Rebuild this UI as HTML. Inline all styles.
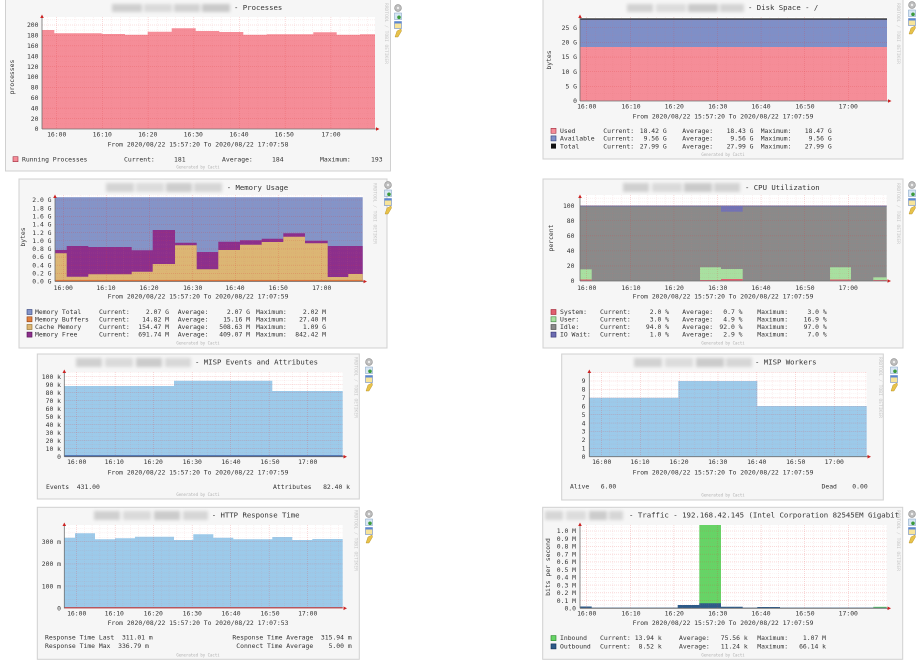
<!DOCTYPE html>
<html><head><meta charset="utf-8">
<style>
html,body{margin:0;padding:0;background:#fff;}
svg{display:block}
text{font-family:"DejaVu Sans Mono","Liberation Mono",monospace;font-size:6.4px;fill:#333;white-space:pre}
.t{font-size:7.3px;fill:#333}
.g{font-size:4px;fill:#b0b0b0}
.v{font-size:4.6px;fill:#c6c6c6}
.r{text-anchor:end}
.m{text-anchor:middle}
.box{fill:#f6f6f6;stroke:#d0d0d0;stroke-width:1}
.ax{stroke:#707070;stroke-width:0.8;fill:none}
.ar{fill:#cc2222}
</style></head><body>
<svg width="920" height="662" viewBox="0 0 920 662" xmlns="http://www.w3.org/2000/svg" xml:space="preserve">
<defs>
<filter id="b" x="-20%" y="-60%" width="140%" height="220%"><feGaussianBlur stdDeviation="1.5"/></filter>
<g id="ic">
<circle cx="0" cy="4" r="3.4" fill="#bdbdbd" stroke="#8e8e8e" stroke-width=".6"/>
<circle cx="0" cy="4" r="1.2" fill="#eee"/>
<rect x="-3.5" y="9" width="7" height="6.5" fill="#d7e6f4" stroke="#7a9cc0" stroke-width=".5"/>
<circle cx="1" cy="13.3" r="1.8" fill="#3c9a3c"/>
<rect x="-3.5" y="17.5" width="7" height="7" fill="#f7e49a" stroke="#6a8cc8" stroke-width=".6"/>
<rect x="-3.5" y="17.5" width="7" height="2" fill="#5b86d0"/>
<polygon points="-3,33 -1,27 3,25 3.5,27 0,33" fill="#e8c24a" stroke="#b08a20" stroke-width=".4"/>
</g>
</defs>
<rect width="920" height="662" fill="#fff"/>

<!-- ================= P1 Processes ================= -->
<rect class="box" x="5.5" y="-1" width="385" height="172"/>
<rect x="42" y="17" width="333" height="112" fill="#fff"/>
<polygon fill="#f58d98" points="42,129 42,30 54.3,30 54.3,33.3 101.7,33.3 101.7,34 125,34 125,34.7 147.7,34.7 147.7,31.7 171.7,31.7 171.7,28.3 195.7,28.3 195.7,31 219.3,31 219.3,32 243.3,32 243.3,34.7 266.7,34.7 266.7,34.3 313.3,34.3 313.3,32.3 336.7,32.3 336.7,34.7 360,34.7 360,34.3 375,34.3 375,129"/>
<g id="g1"></g>
<path class="ax" d="M42,129H377M42,129V16"/>
<path class="ar" d="M40.2,18L42,14.5L43.8,18Z"/><path class="ar" d="M376,127.2L379.5,129L376,130.8Z"/>
<text x="38.5" y="131.2" class="r">0</text><text x="38.5" y="120.8" class="r">20</text><text x="38.5" y="110.4" class="r">40</text><text x="38.5" y="100" class="r">60</text><text x="38.5" y="89.6" class="r">80</text><text x="38.5" y="79.2" class="r">100</text><text x="38.5" y="68.8" class="r">120</text><text x="38.5" y="58.4" class="r">140</text><text x="38.5" y="48" class="r">160</text><text x="38.5" y="37.6" class="r">180</text><text x="38.5" y="27.2" class="r">200</text>
<text class="m" x="56.7" y="136.5">16:00</text><text class="m" x="102.3" y="136.5">16:10</text><text class="m" x="147.7" y="136.5">16:20</text><text class="m" x="193.3" y="136.5">16:30</text><text class="m" x="239" y="136.5">16:40</text><text class="m" x="284.3" y="136.5">16:50</text><text class="m" x="331" y="136.5">17:00</text>
<text class="m" transform="translate(14,77) rotate(-90)">processes</text>
<g filter="url(#b)"><rect x="112" y="4" width="30" height="8" fill="#cfcfcf"/><rect x="144" y="4" width="28" height="8" fill="#dadada"/><rect x="174" y="4" width="26" height="8" fill="#d2d2d2"/><rect x="202" y="4" width="28" height="8" fill="#c9c9c9"/></g>
<text class="t" x="234" y="10">- Processes</text>
<text class="m" x="198" y="146.3">From 2020/08/22 15:57:20 To 2020/08/22 17:07:58</text>
<rect x="13" y="156.7" width="5" height="5" fill="#f58d98" stroke="#a03040" stroke-width=".6"/>
<text x="22" y="161.5">Running Processes</text>
<text x="124" y="161.5">Current:</text><text x="174" y="161.5">181</text>
<text x="222" y="161.5">Average:</text><text x="272" y="161.5">184</text>
<text x="320" y="161.5">Maximum:</text><text x="371" y="161.5">193</text>
<text class="g m" x="198" y="168.5">Generated by Cacti</text>
<text class="v" transform="translate(385,3) rotate(90)">RRDTOOL / TOBI OETIKER</text>
<use href="#ic" x="398" y="4"/>

<!-- ================= P2 Disk ================= -->
<rect class="box" x="543" y="-1" width="360" height="160"/>
<rect x="580" y="17" width="307" height="84" fill="#fff"/>
<rect x="580" y="47" width="307" height="54" fill="#f58d98"/>
<rect x="580" y="19" width="307" height="28" fill="#7f8fc7"/>
<g id="g2"></g>
<line x1="580" y1="19" x2="887" y2="19" stroke="#222" stroke-width="1.2"/>
<path class="ax" d="M580,101H889M580,101V16"/>
<path class="ar" d="M578.2,18L580,14.5L581.8,18Z"/><path class="ar" d="M888,99.2L891.5,101L888,102.8Z"/>
<text class="r" x="577" y="103.2">0</text><text class="r" x="577" y="88.5">5 G</text><text class="r" x="577" y="73.9">10 G</text><text class="r" x="577" y="59.2">15 G</text><text class="r" x="577" y="44.6">20 G</text><text class="r" x="577" y="29.9">25 G</text>
<text class="m" transform="translate(551,60) rotate(-90)">bytes</text>
<text class="m" x="586.7" y="108.5">16:00</text><text class="m" x="631" y="108.5">16:10</text><text class="m" x="674.3" y="108.5">16:20</text><text class="m" x="717.7" y="108.5">16:30</text><text class="m" x="761" y="108.5">16:40</text><text class="m" x="805" y="108.5">16:50</text><text class="m" x="848.3" y="108.5">17:00</text>
<g filter="url(#b)"><rect x="627" y="4" width="26" height="8" fill="#d2d2d2"/><rect x="656" y="4" width="30" height="8" fill="#dcdcdc"/><rect x="688" y="4" width="30" height="8" fill="#c9c9c9"/><rect x="720" y="4" width="24" height="8" fill="#d4d4d4"/></g>
<text class="t" x="748" y="10">- Disk Space - /</text>
<text class="m" x="723" y="118.5">From 2020/08/22 15:57:20 To 2020/08/22 17:07:59</text>
<rect x="551" y="128.3" width="5" height="5" fill="#f58d98" stroke="#a03040" stroke-width=".6"/>
<rect x="551" y="135.9" width="5" height="5" fill="#7f8fc7" stroke="#30407a" stroke-width=".6"/>
<rect x="551" y="143.6" width="5" height="5" fill="#111"/>
<text x="560" y="132.9">Used</text><text x="603.3" y="132.9">Current:</text><text class="r" x="666.7" y="132.9">18.42 G</text><text x="682.3" y="132.9">Average:</text><text class="r" x="753.5" y="132.9">18.43 G</text><text x="760.7" y="132.9">Maximum:</text><text class="r" x="831.7" y="132.9">18.47 G</text>
<text x="560" y="140.5">Available</text><text x="603.3" y="140.5">Current:</text><text class="r" x="666.7" y="140.5">9.56 G</text><text x="682.3" y="140.5">Average:</text><text class="r" x="753.5" y="140.5">9.56 G</text><text x="760.7" y="140.5">Maximum:</text><text class="r" x="831.7" y="140.5">9.56 G</text>
<text x="560" y="148.5">Total</text><text x="603.3" y="148.5">Current:</text><text class="r" x="666.7" y="148.5">27.99 G</text><text x="682.3" y="148.5">Average:</text><text class="r" x="753.5" y="148.5">27.99 G</text><text x="760.7" y="148.5">Maximum:</text><text class="r" x="831.7" y="148.5">27.99 G</text>
<text class="g m" x="723" y="156">Generated by Cacti</text>
<text class="v" transform="translate(897,3) rotate(90)">RRDTOOL / TOBI OETIKER</text>
<use href="#ic" x="912" y="1"/>

<!-- ================= P3 Memory ================= -->
<rect class="box" x="19" y="179" width="368" height="169"/>
<rect x="55" y="195" width="307.7" height="86.5" fill="#fff"/>
<rect x="55" y="197.2" width="307.7" height="84.3" fill="#8494c8"/>
<polygon fill="#8c2f8c" points="55,281.5 55,250 66.7,250 66.7,246 88.3,246 88.3,247 131.7,247 131.7,250.3 152.7,250.3 152.7,230 175,230 175,242.7 196.7,242.7 196.7,252 218.3,252 218.3,241.7 240,241.7 240,240.3 261.7,240.3 261.7,238.7 283.3,238.7 283.3,233.3 305,233.3 305,240.7 327.7,240.7 327.7,246 362.7,246 362.7,281.5"/>
<polygon fill="#dcb674" points="55,281.5 55,253.3 66.7,253.3 66.7,276.7 88.3,276.7 88.3,274.3 131.7,274.3 131.7,271.7 152.7,271.7 152.7,264 175,264 175,245.3 196.7,245.3 196.7,269.3 218.3,269.3 218.3,250 240,250 240,244.7 261.7,244.7 261.7,242 283.3,242 283.3,236.7 305,236.7 305,243.3 327.7,243.3 327.7,277 348.3,277 348.3,274 362.7,274 362.7,281.5"/>
<rect x="55" y="279.9" width="307.7" height="1.6" fill="#d9733a"/>
<g id="g3"></g>
<path class="ax" d="M55,281.5H364.5M55,281.5V196"/>
<path class="ar" d="M53.2,198L55,194.5L56.8,198Z"/><path class="ar" d="M363.5,279.7L367,281.5L363.5,283.3Z"/>
<text class="r" x="51.5" y="283.7">0.0 G</text><text class="r" x="51.5" y="275.5">0.2 G</text><text class="r" x="51.5" y="267.4">0.4 G</text><text class="r" x="51.5" y="259.2">0.6 G</text><text class="r" x="51.5" y="251.1">0.8 G</text><text class="r" x="51.5" y="243">1.0 G</text><text class="r" x="51.5" y="234.8">1.2 G</text><text class="r" x="51.5" y="226.7">1.4 G</text><text class="r" x="51.5" y="218.5">1.6 G</text><text class="r" x="51.5" y="210.4">1.8 G</text><text class="r" x="51.5" y="202.2">2.0 G</text>
<text class="m" transform="translate(25,237) rotate(-90)">bytes</text>
<text class="m" x="63.3" y="290">16:00</text><text class="m" x="106" y="290">16:10</text><text class="m" x="149" y="290">16:20</text><text class="m" x="192.7" y="290">16:30</text><text class="m" x="235" y="290">16:40</text><text class="m" x="278.3" y="290">16:50</text><text class="m" x="321.7" y="290">17:00</text>
<g filter="url(#b)"><rect x="106" y="183" width="28" height="9" fill="#d4d4d4"/><rect x="136" y="183" width="28" height="9" fill="#dcdcdc"/><rect x="166" y="183" width="26" height="9" fill="#cdcdcd"/><rect x="194" y="183" width="28" height="9" fill="#d6d6d6"/></g>
<text class="t" x="226.7" y="190">- Memory Usage</text>
<text class="m" x="198" y="298.3">From 2020/08/22 15:57:20 To 2020/08/22 17:07:59</text>
<rect x="27" y="309.5" width="5" height="5" fill="#8494c8" stroke="#30407a" stroke-width=".6"/>
<rect x="27" y="316.8" width="5" height="5" fill="#e08040" stroke="#904010" stroke-width=".6"/>
<rect x="27" y="324.5" width="5" height="5" fill="#dcb674" stroke="#8a6a2a" stroke-width=".6"/>
<rect x="27" y="332.1" width="5" height="5" fill="#8c2f8c" stroke="#501050" stroke-width=".6"/>
<text x="35" y="314">Memory Total</text><text x="99" y="314">Current:</text><text class="r" x="169" y="314">2.07 G</text><text x="177.7" y="314">Average:</text><text class="r" x="250" y="314">2.07 G</text><text x="256" y="314">Maximum:</text><text class="r" x="326" y="314">2.02 M</text>
<text x="35" y="321.3">Memory Buffers</text><text x="99" y="321.3">Current:</text><text class="r" x="169" y="321.3">14.82 M</text><text x="177.7" y="321.3">Average:</text><text class="r" x="250" y="321.3">15.16 M</text><text x="256" y="321.3">Maximum:</text><text class="r" x="326" y="321.3">27.40 M</text>
<text x="35" y="329">Cache Memory</text><text x="99" y="329">Current:</text><text class="r" x="169" y="329">154.47 M</text><text x="177.7" y="329">Average:</text><text class="r" x="250" y="329">508.63 M</text><text x="256" y="329">Maximum:</text><text class="r" x="326" y="329">1.09 G</text>
<text x="35" y="336.6">Memory Free</text><text x="99" y="336.6">Current:</text><text class="r" x="169" y="336.6">691.74 M</text><text x="177.7" y="336.6">Average:</text><text class="r" x="250" y="336.6">409.07 M</text><text x="256" y="336.6">Maximum:</text><text class="r" x="326" y="336.6">842.42 M</text>
<text class="g m" x="198" y="344.5">Generated by Cacti</text>
<text class="v" transform="translate(373.5,183) rotate(90)">RRDTOOL / TOBI OETIKER</text>
<use href="#ic" x="388" y="181"/>

<!-- ================= P4 CPU ================= -->
<rect class="box" x="543" y="179" width="360" height="169"/>
<rect x="580" y="195" width="306.7" height="86" fill="#fff"/>
<rect x="580" y="206" width="306.7" height="75" fill="#8a8a8a"/>
<rect x="580" y="205.5" width="306.7" height="1" fill="#6f6fa0"/>
<rect x="721" y="206" width="21.7" height="5.7" fill="#7272b4"/>
<rect x="580" y="269.3" width="11.7" height="11.7" fill="#a8e0a0"/>
<rect x="700" y="267.3" width="21" height="13.7" fill="#a8e0a0"/>
<rect x="721" y="269" width="21.7" height="12" fill="#a8e0a0"/>
<rect x="830" y="267.3" width="21" height="13.7" fill="#a8e0a0"/>
<rect x="873.3" y="277.3" width="13.4" height="3.7" fill="#a8e0a0"/>
<rect x="580" y="279.5" width="11.7" height="1.5" fill="#e06070"/>
<rect x="700" y="280" width="21" height="1" fill="#e06070"/>
<rect x="721" y="279" width="21.7" height="2" fill="#e06070"/>
<rect x="830" y="279.5" width="21" height="1.5" fill="#e06070"/>
<rect x="873.3" y="280" width="13.4" height="1" fill="#e06070"/>
<g id="g4"></g>
<path class="ax" d="M580,281H888.5M580,281V196"/>
<path class="ar" d="M578.2,198L580,194.5L581.8,198Z"/><path class="ar" d="M887.5,279.2L891,281L887.5,282.8Z"/>
<text class="r" x="574.5" y="283.2">0</text><text class="r" x="574.5" y="268.1">20</text><text class="r" x="574.5" y="253.1">40</text><text class="r" x="574.5" y="238">60</text><text class="r" x="574.5" y="223">80</text><text class="r" x="574.5" y="207.9">100</text>
<text class="m" transform="translate(553,238) rotate(-90)">percent</text>
<text class="m" x="586.7" y="290">16:00</text><text class="m" x="631" y="290">16:10</text><text class="m" x="674.3" y="290">16:20</text><text class="m" x="717.7" y="290">16:30</text><text class="m" x="761" y="290">16:40</text><text class="m" x="805" y="290">16:50</text><text class="m" x="848.3" y="290">17:00</text>
<g filter="url(#b)"><rect x="623" y="183" width="26" height="9" fill="#d0d0d0"/><rect x="652" y="183" width="30" height="9" fill="#dadada"/><rect x="684" y="183" width="28" height="9" fill="#cacaca"/><rect x="714" y="183" width="26" height="9" fill="#d3d3d3"/></g>
<text class="t" x="745" y="190">- CPU Utilization</text>
<text class="m" x="723" y="298.3">From 2020/08/22 15:57:20 To 2020/08/22 17:07:59</text>
<rect x="551" y="309.5" width="5" height="5" fill="#e06070" stroke="#a02030" stroke-width=".6"/>
<rect x="551" y="316.8" width="5" height="5" fill="#a8e0a0" stroke="#408040" stroke-width=".6"/>
<rect x="551" y="324.5" width="5" height="5" fill="#8a8a8a" stroke="#444" stroke-width=".6"/>
<rect x="551" y="332.1" width="5" height="5" fill="#6b6bb0" stroke="#303070" stroke-width=".6"/>
<text x="560" y="314">System:</text><text x="600" y="314">Current:</text><text class="r" x="669" y="314">2.0 %</text><text x="682.3" y="314">Average:</text><text class="r" x="742.5" y="314">0.7 %</text><text x="757.3" y="314">Maximum:</text><text class="r" x="826.7" y="314">3.0 %</text>
<text x="560" y="321.3">User:</text><text x="600" y="321.3">Current:</text><text class="r" x="669" y="321.3">3.0 %</text><text x="682.3" y="321.3">Average:</text><text class="r" x="742.5" y="321.3">4.9 %</text><text x="757.3" y="321.3">Maximum:</text><text class="r" x="826.7" y="321.3">16.9 %</text>
<text x="560" y="329">Idle:</text><text x="600" y="329">Current:</text><text class="r" x="669" y="329">94.0 %</text><text x="682.3" y="329">Average:</text><text class="r" x="742.5" y="329">92.0 %</text><text x="757.3" y="329">Maximum:</text><text class="r" x="826.7" y="329">97.0 %</text>
<text x="560" y="336.6">IO Wait:</text><text x="600" y="336.6">Current:</text><text class="r" x="669" y="336.6">1.0 %</text><text x="682.3" y="336.6">Average:</text><text class="r" x="742.5" y="336.6">2.9 %</text><text x="757.3" y="336.6">Maximum:</text><text class="r" x="826.7" y="336.6">7.0 %</text>
<text class="g m" x="723" y="344.5">Generated by Cacti</text>
<text class="v" transform="translate(897,183) rotate(90)">RRDTOOL / TOBI OETIKER</text>
<use href="#ic" x="912" y="181"/>

<!-- ================= P5 MISP Events ================= -->
<rect class="box" x="37.3" y="354" width="322" height="145"/>
<rect x="64.3" y="372" width="278.4" height="84.7" fill="#fff"/>
<polygon fill="#9ccaea" points="64.3,456.7 64.3,386 174,386 174,380.7 272.3,380.7 272.3,391 342.7,391 342.7,456.7"/>
<g id="g5"></g>
<line x1="64.3" y1="456" x2="342.7" y2="456" stroke="#2b4a9a" stroke-width="1.3"/>
<path class="ax" d="M64.3,456.7H344.5M64.3,456.7V371"/>
<path class="ar" d="M62.5,373L64.3,369.5L66.1,373Z"/><path class="ar" d="M343.5,454.9L347,456.7L343.5,458.5Z"/>
<text class="r" x="61" y="458.9">0</text><text class="r" x="61" y="450.9">10 k</text><text class="r" x="61" y="442.9">20 k</text><text class="r" x="61" y="434.9">30 k</text><text class="r" x="61" y="426.9">40 k</text><text class="r" x="61" y="418.9">50 k</text><text class="r" x="61" y="410.9">60 k</text><text class="r" x="61" y="402.9">70 k</text><text class="r" x="61" y="394.9">80 k</text><text class="r" x="61" y="386.9">90 k</text><text class="r" x="61" y="378.9">100 k</text>
<text class="m" x="76.7" y="463.8">16:00</text><text class="m" x="114.3" y="463.8">16:10</text><text class="m" x="153.3" y="463.8">16:20</text><text class="m" x="192.3" y="463.8">16:30</text><text class="m" x="231" y="463.8">16:40</text><text class="m" x="270" y="463.8">16:50</text><text class="m" x="307.7" y="463.8">17:00</text>
<g filter="url(#b)"><rect x="76" y="358" width="26" height="9" fill="#d0d0d0"/><rect x="105" y="358" width="28" height="9" fill="#dadada"/><rect x="136" y="358" width="26" height="9" fill="#cbcbcb"/><rect x="165" y="358" width="26" height="9" fill="#d8d8d8"/></g>
<text class="t" x="195" y="364.5">- MISP Events and Attributes</text>
<text class="m" x="198" y="474.3">From 2020/08/22 15:57:20 To 2020/08/22 17:07:59</text>
<text x="46" y="489">Events  431.00</text>
<text class="r" x="350" y="489">Attributes   82.40 k</text>
<text class="g m" x="198" y="496">Generated by Cacti</text>
<text class="v" transform="translate(354.5,357) rotate(90)">RRDTOOL / TOBI OETIKER</text>
<use href="#ic" x="369" y="358"/>

<!-- ================= P6 MISP Workers ================= -->
<rect class="box" x="561.7" y="354" width="321.6" height="146"/>
<rect x="589.3" y="372" width="277.4" height="84.7" fill="#fff"/>
<polygon fill="#9ccaea" points="589.3,456.7 589.3,397.7 678.3,397.7 678.3,381 757.3,381 757.3,406 866.7,406 866.7,456.7"/>
<g id="g6"></g>
<path class="ax" d="M589.3,456.7H868.5M589.3,456.7V371"/>
<path class="ar" d="M587.5,373L589.3,369.5L591.1,373Z"/><path class="ar" d="M867.5,454.9L871,456.7L867.5,458.5Z"/>
<text class="r" x="585.5" y="458.9">0</text><text class="r" x="585.5" y="450.5">1</text><text class="r" x="585.5" y="442.1">2</text><text class="r" x="585.5" y="433.7">3</text><text class="r" x="585.5" y="425.3">4</text><text class="r" x="585.5" y="416.8">5</text><text class="r" x="585.5" y="408.4">6</text><text class="r" x="585.5" y="400">7</text><text class="r" x="585.5" y="391.6">8</text><text class="r" x="585.5" y="383.2">9</text>
<text class="m" x="601.7" y="463.8">16:00</text><text class="m" x="640" y="463.8">16:10</text><text class="m" x="679" y="463.8">16:20</text><text class="m" x="717.7" y="463.8">16:30</text><text class="m" x="756.7" y="463.8">16:40</text><text class="m" x="795.7" y="463.8">16:50</text><text class="m" x="834.3" y="463.8">17:00</text>
<g filter="url(#b)"><rect x="634" y="358" width="28" height="9" fill="#d2d2d2"/><rect x="665" y="358" width="28" height="9" fill="#dcdcdc"/><rect x="696" y="358" width="28" height="9" fill="#cbcbcb"/><rect x="726" y="358" width="26" height="9" fill="#d6d6d6"/></g>
<text class="t" x="755" y="364.5">- MISP Workers</text>
<text class="m" x="723" y="474.3">From 2020/08/22 15:57:20 To 2020/08/22 17:07:59</text>
<text x="570" y="488.5">Alive   6.00</text>
<text class="r" x="867.7" y="488.5">Dead    0.00</text>
<text class="g m" x="723" y="496.5">Generated by Cacti</text>
<text class="v" transform="translate(879,357) rotate(90)">RRDTOOL / TOBI OETIKER</text>
<use href="#ic" x="894" y="358"/>

<!-- ================= P7 HTTP ================= -->
<rect class="box" x="37.3" y="507.3" width="322" height="152"/>
<rect x="64.3" y="525" width="278.4" height="83.3" fill="#fff"/>
<polygon fill="#9ccaea" points="64.3,608.3 64.3,537.7 75,537.7 75,533.3 95,533.3 95,539.3 115,539.3 115,538.3 135,538.3 135,536.7 174,536.7 174,540 193.3,540 193.3,534.3 213.3,534.3 213.3,537.7 233.3,537.7 233.3,539.3 272.3,539.3 272.3,537 292.3,537 292.3,540 312.3,540 312.3,539 342.7,539 342.7,608.3"/>
<g id="g7"></g>
<line x1="64.3" y1="607.8" x2="342.7" y2="607.8" stroke="#c03030" stroke-width="1.2"/>
<path class="ax" d="M64.3,608.3V524"/>
<path class="ar" d="M62.5,526L64.3,522.5L66.1,526Z"/><path class="ar" d="M343.5,606.5L347,608.3L343.5,610.1Z"/>
<text class="r" x="61" y="610.5">0</text><text class="r" x="61" y="588.3">100 m</text><text class="r" x="61" y="566.1">200 m</text><text class="r" x="61" y="543.9">300 m</text>
<text class="m" x="76.7" y="615.5">16:00</text><text class="m" x="114.3" y="615.5">16:10</text><text class="m" x="153.3" y="615.5">16:20</text><text class="m" x="192.3" y="615.5">16:30</text><text class="m" x="231" y="615.5">16:40</text><text class="m" x="270" y="615.5">16:50</text><text class="m" x="307.7" y="615.5">17:00</text>
<g filter="url(#b)"><rect x="94" y="511" width="26" height="9" fill="#d0d0d0"/><rect x="123" y="511" width="28" height="9" fill="#dadada"/><rect x="154" y="511" width="26" height="9" fill="#cbcbcb"/><rect x="183" y="511" width="25" height="9" fill="#d6d6d6"/></g>
<text class="t" x="211.7" y="517.5">- HTTP Response Time</text>
<text class="m" x="198" y="625">From 2020/08/22 15:57:20 To 2020/08/22 17:07:53</text>
<text x="45" y="639.6">Response Time Last  311.01 m</text>
<text class="r" x="351.7" y="639.6">Response Time Average  315.94 m</text>
<text x="45" y="648">Response Time Max  336.79 m</text>
<text class="r" x="351.7" y="648">Connect Time Average    5.00 m</text>
<text class="g m" x="198" y="656.5">Generated by Cacti</text>
<text class="v" transform="translate(354.5,510) rotate(90)">RRDTOOL / TOBI OETIKER</text>
<use href="#ic" x="369" y="510"/>

<!-- ================= P8 Traffic ================= -->
<rect class="box" x="542.7" y="507.3" width="360" height="152"/>
<rect x="580" y="525" width="306.7" height="83.3" fill="#fff"/>
<rect x="699.3" y="525" width="21.7" height="83.3" fill="#66d466"/>
<rect x="873.3" y="606.8" width="13.4" height="1.5" fill="#66d466"/>
<polygon fill="#2d5a88" points="580,608.3 580,606.5 591.7,606.5 591.7,607.6 677.7,607.6 677.7,605 699.3,605 699.3,603.3 721,603.3 721,606.7 742.7,606.7 742.7,607.6 757.3,607.6 757.3,607 780,607 780,607.6 886.7,607.6 886.7,608.3"/>
<g id="g8"></g>
<path class="ax" d="M580,608.3H888.5M580,608.3V524"/>
<path class="ar" d="M578.2,526L580,522.5L581.8,526Z"/><path class="ar" d="M887.5,606.5L891,608.3L887.5,610.1Z"/>
<text class="r" x="576" y="610.5">0.0</text><text class="r" x="576" y="602.8">0.1 M</text><text class="r" x="576" y="595.1">0.2 M</text><text class="r" x="576" y="587.3">0.3 M</text><text class="r" x="576" y="579.6">0.4 M</text><text class="r" x="576" y="571.9">0.5 M</text><text class="r" x="576" y="564.1">0.6 M</text><text class="r" x="576" y="556.4">0.7 M</text><text class="r" x="576" y="548.7">0.8 M</text><text class="r" x="576" y="540.9">0.9 M</text><text class="r" x="576" y="533.2">1.0 M</text>
<text class="m" transform="translate(550,567) rotate(-90)">bits per second</text>
<text class="m" x="586.7" y="615.5">16:00</text><text class="m" x="631" y="615.5">16:10</text><text class="m" x="674.3" y="615.5">16:20</text><text class="m" x="717.7" y="615.5">16:30</text><text class="m" x="761" y="615.5">16:40</text><text class="m" x="805" y="615.5">16:50</text><text class="m" x="848.3" y="615.5">17:00</text>
<g filter="url(#b)"><rect x="545" y="511" width="18" height="9" fill="#d6d6d6"/><rect x="566" y="511" width="20" height="9" fill="#dcdcdc"/><rect x="589" y="511" width="18" height="9" fill="#cbcbcb"/><rect x="609" y="511" width="14" height="9" fill="#d6d6d6"/></g>
<text class="t" x="629" y="517.5" textLength="270" lengthAdjust="spacingAndGlyphs">- Traffic - 192.168.42.145 (Intel Corporation 82545EM Gigabit</text>
<text class="m" x="723" y="625">From 2020/08/22 15:57:20 To 2020/08/22 17:07:59</text>
<rect x="551" y="635.6" width="5" height="5" fill="#66d466" stroke="#208020" stroke-width=".6"/>
<rect x="551" y="643.9" width="5" height="5" fill="#2d5a88" stroke="#102a50" stroke-width=".6"/>
<text x="560" y="640">Inbound</text><text x="600" y="640">Current:</text><text class="r" x="661.7" y="640">13.94 k</text><text x="679" y="640">Average:</text><text class="r" x="747.7" y="640">75.56 k</text><text x="757.3" y="640">Maximum:</text><text class="r" x="826" y="640">1.07 M</text>
<text x="560" y="648.3">Outbound</text><text x="600" y="648.3">Current:</text><text class="r" x="661.7" y="648.3">8.52 k</text><text x="679" y="648.3">Average:</text><text class="r" x="747.7" y="648.3">11.24 k</text><text x="757.3" y="648.3">Maximum:</text><text class="r" x="826" y="648.3">66.14 k</text>
<text class="g m" x="723" y="656.5">Generated by Cacti</text>
<text class="v" transform="translate(897,510) rotate(90)">RRDTOOL / TOBI OETIKER</text>
<use href="#ic" x="912" y="510"/>
</svg>
<script>
(function(){
var NS='http://www.w3.org/2000/svg';
function ln(g,x1,y1,x2,y2,maj){
 var l=document.createElementNS(NS,'line');
 l.setAttribute('x1',x1.toFixed(2));l.setAttribute('y1',y1.toFixed(2));
 l.setAttribute('x2',x2.toFixed(2));l.setAttribute('y2',y2.toFixed(2));
 l.setAttribute('stroke',maj?'rgba(225,60,60,0.32)':'rgba(225,110,110,0.16)');
 l.setAttribute('stroke-width','0.6');
 l.setAttribute('stroke-dasharray','1,1');
 g.appendChild(l);
}
function grid(id,L,R,T,B,x0,xs,xm,ys,ym){
 var g=document.getElementById(id);
 var ms=xs/xm;
 var k=Math.ceil((L+0.8-x0)/ms);
 for(var i=k;;i++){var x=x0+i*ms;if(x>R-0.5)break;ln(g,x,T,x,B,((i%xm)+xm)%xm===0);}
 var mys=ys/ym;
 for(var j=1;;j++){var y=B-j*mys;if(y<T+0.5)break;ln(g,L,y,R,y,j%ym===0);}
}
grid('g1',42,375,17,129,56.7,45.7,5,10.4,2);
grid('g2',580,887,17,101,586.7,43.6,5,14.65,2);
grid('g3',55,362.7,195,281.5,63.3,43.07,5,8.15,2);
grid('g4',580,886.7,195,281,586.7,43.6,5,15.06,4);
grid('g5',64.3,342.7,372,456.7,76.7,38.5,5,8,2);
grid('g6',589.3,866.7,372,456.7,601.7,38.77,5,8.41,2);
grid('g7',64.3,342.7,525,608.3,76.7,38.5,5,22.2,5);
grid('g8',580,886.7,525,608.3,586.7,43.6,5,7.73,2);
})();
</script>
</body></html>
